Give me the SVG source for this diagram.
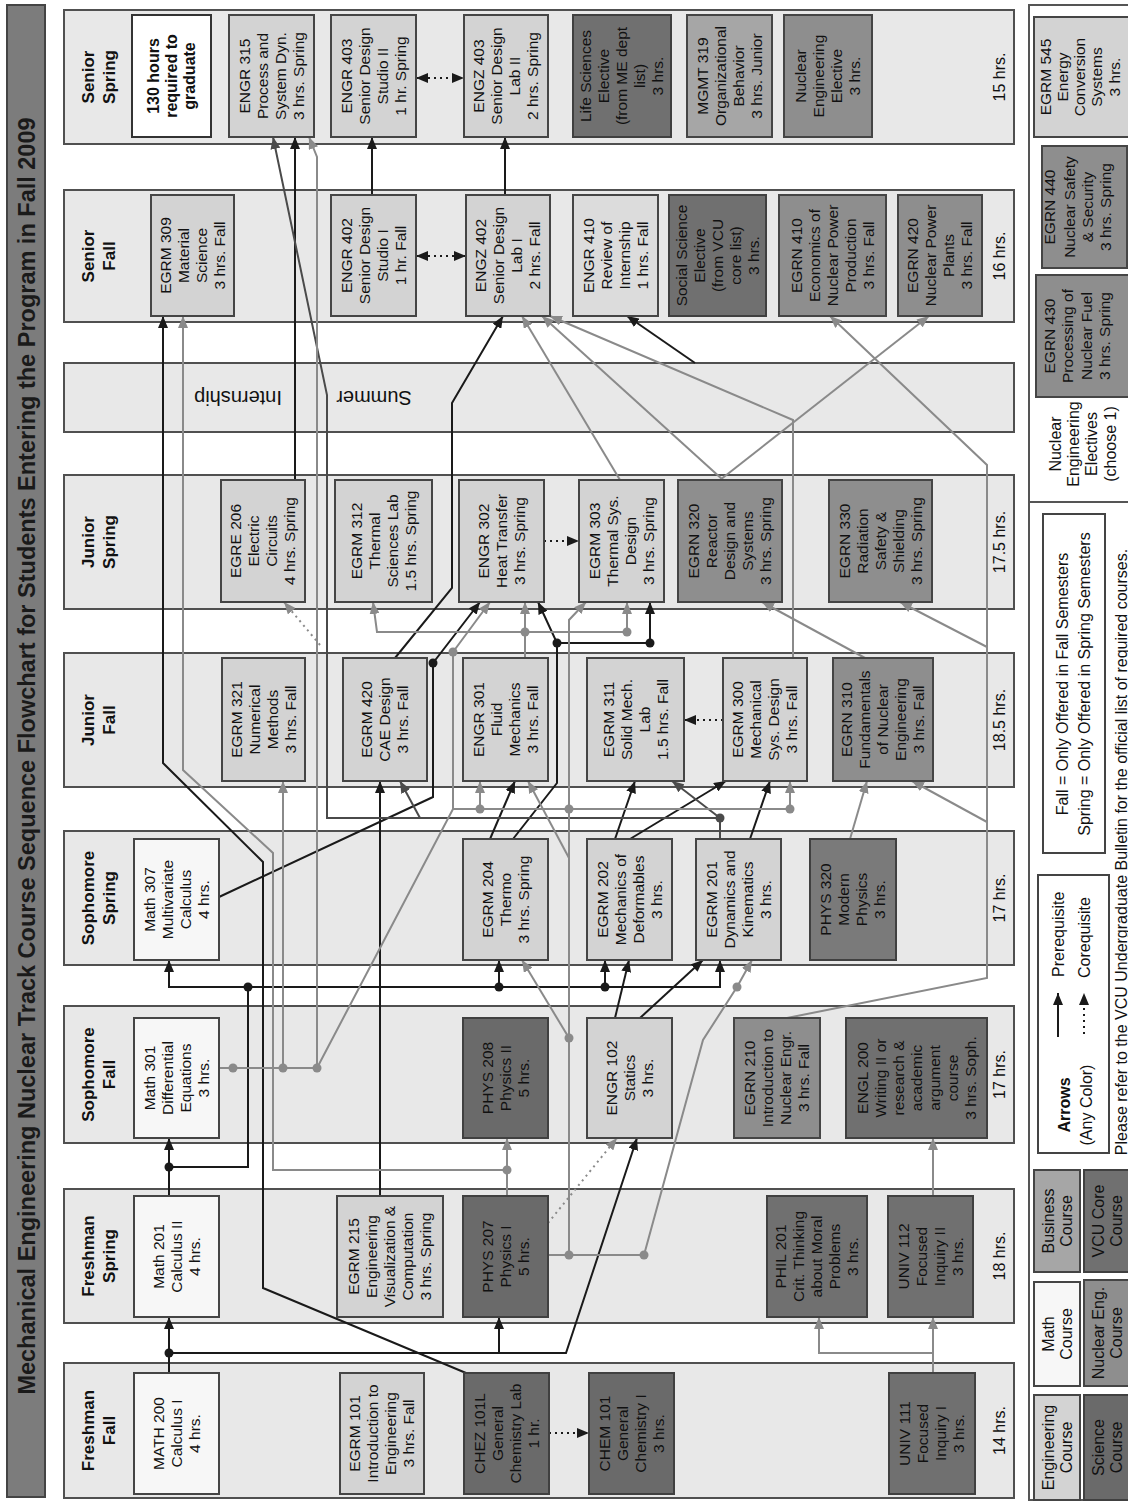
<svg xmlns="http://www.w3.org/2000/svg" width="1128" height="1502" viewBox="0 0 1128 1502">
<defs>
<style>
.t{font-family:'Liberation Sans',Arial,sans-serif;font-size:15.5px;text-anchor:middle;fill:#111}
.b{font-weight:bold}
.hd{font-family:'Liberation Sans',Arial,sans-serif;font-size:17px;font-weight:bold;text-anchor:middle;fill:#111}
.hr{font-family:'Liberation Sans',Arial,sans-serif;font-size:16px;text-anchor:middle;fill:#111}
.lg{font-family:'Liberation Sans',Arial,sans-serif;font-size:16px;text-anchor:middle;fill:#111}
.col{fill:#e8e8e8;stroke:#505050;stroke-width:2}
.eng{fill:#d3d3d3;stroke:#454545;stroke-width:2}
.math{fill:#f7f7f7;stroke:#454545;stroke-width:2}
.wht{fill:#ffffff;stroke:#333;stroke-width:2}
.nuc{fill:#8e8e8e;stroke:#454545;stroke-width:2}
.vcu{fill:#707070;stroke:#404040;stroke-width:2}
.sci{fill:#6a6a6a;stroke:#404040;stroke-width:2}
.bus{fill:#a6a6a6;stroke:#454545;stroke-width:2}
.k{stroke:#1a1a1a;stroke-width:2;fill:none}
.d{stroke:#4a4a4a;stroke-width:2;fill:none}
.g{stroke:#8a8a8a;stroke-width:2;fill:none}
.dash{stroke-dasharray:2 4}
</style>
<marker id="ak" viewBox="0 0 12 10" markerWidth="12" markerHeight="10" refX="12" refY="5" orient="auto" markerUnits="userSpaceOnUse"><path d="M0,0L12,5L0,10z" fill="#1a1a1a"/></marker>
<marker id="aks" viewBox="0 0 12 10" markerWidth="12" markerHeight="10" refX="12" refY="5" orient="auto-start-reverse" markerUnits="userSpaceOnUse"><path d="M0,0L12,5L0,10z" fill="#1a1a1a"/></marker>
<marker id="ad" viewBox="0 0 12 10" markerWidth="12" markerHeight="10" refX="12" refY="5" orient="auto" markerUnits="userSpaceOnUse"><path d="M0,0L12,5L0,10z" fill="#4a4a4a"/></marker>
<marker id="ag" viewBox="0 0 12 10" markerWidth="12" markerHeight="10" refX="12" refY="5" orient="auto" markerUnits="userSpaceOnUse"><path d="M0,0L12,5L0,10z" fill="#8a8a8a"/></marker>
</defs>
<rect x="0" y="0" width="1128" height="1502" fill="#ffffff"/>
<g transform="translate(0,1502) rotate(-90)">

<g id="title">
<rect x="5" y="7" width="1492" height="38" fill="#7c7c7c" stroke="#444" stroke-width="2"/>
<text x="746" y="35" font-family="'Liberation Sans',Arial,sans-serif" font-size="23.5" font-weight="bold" text-anchor="middle" fill="#1a1a1a">Mechanical Engineering Nuclear Track Course Sequence Flowchart for Students Entering the Program in Fall 2009</text>
</g>

<g id="columns">
<g id="col-ff"><rect class="col" x="4" y="64" width="135" height="950"/><text class="hd"><tspan x="71.5" y="94">Freshman</tspan><tspan x="71.5" y="115">Fall</tspan></text><text class="hr" x="71.5" y="1005">14 hrs.</text></g>
<g id="col-fs"><rect class="col" x="179" y="64" width="134" height="950"/><text class="hd"><tspan x="246" y="94">Freshman</tspan><tspan x="246" y="115">Spring</tspan></text><text class="hr" x="246" y="1005">18 hrs.</text></g>
<g id="col-sof"><rect class="col" x="359" y="64" width="137" height="950"/><text class="hd"><tspan x="427.5" y="94">Sophomore</tspan><tspan x="427.5" y="115">Fall</tspan></text><text class="hr" x="427.5" y="1005">17 hrs.</text></g>
<g id="col-sos"><rect class="col" x="537" y="64" width="134" height="950"/><text class="hd"><tspan x="604" y="94">Sophomore</tspan><tspan x="604" y="115">Spring</tspan></text><text class="hr" x="604" y="1005">17 hrs.</text></g>
<g id="col-jf"><rect class="col" x="715" y="64" width="134" height="950"/><text class="hd"><tspan x="782" y="94">Junior</tspan><tspan x="782" y="115">Fall</tspan></text><text class="hr" x="782" y="1005">18.5 hrs.</text></g>
<g id="col-js"><rect class="col" x="893" y="64" width="134" height="950"/><text class="hd"><tspan x="960" y="94">Junior</tspan><tspan x="960" y="115">Spring</tspan></text><text class="hr" x="960" y="1005">17.5 hrs.</text></g>
<g id="col-sum"><rect class="col" x="1070" y="64" width="69" height="950"/>
<text x="1104" y="238" font-family="'Liberation Sans',Arial,sans-serif" font-size="20" text-anchor="middle" dominant-baseline="central" fill="#111" transform="rotate(-90 1104 238)">Internship</text>
<text x="1104" y="374" font-family="'Liberation Sans',Arial,sans-serif" font-size="20" text-anchor="middle" dominant-baseline="central" fill="#111" transform="rotate(-90 1104 374)">Summer</text></g>
<g id="col-sef"><rect class="col" x="1180" y="64" width="132" height="950"/><text class="hd"><tspan x="1246" y="94">Senior</tspan><tspan x="1246" y="115">Fall</tspan></text><text class="hr" x="1246" y="1005">16 hrs.</text></g>
<g id="col-ses"><rect class="col" x="1358" y="64" width="134" height="950"/><text class="hd"><tspan x="1425" y="94">Senior</tspan><tspan x="1425" y="115">Spring</tspan></text><text class="hr" x="1425" y="1005">15 hrs.</text></g>
</g>

<g id="connectors">
<path class="k" d="M129,169 L185,169" marker-end="url(#ak)"/>
<path class="k" d="M149,169 L149,566 L364,637" marker-end="url(#ak)"/>
<path class="k" d="M149,499 L185,499" marker-end="url(#ak)"/>
<path class="k dash" d="M69,549 L69,589" marker-end="url(#ak)"/>
<path class="k" d="M129,466 L214,263 L640,263 L739,163 L1186,163" marker-end="url(#ak)"/>
<path class="k" d="M306,169 L364,169" marker-end="url(#ak)"/>
<path class="k" d="M335,169 L335,248 L515,248 L515,169 L542,169" marker-end="url(#ak)"/>
<path class="k" d="M515,248 L515,720 L542,720" marker-end="url(#ak)"/>
<path class="k" d="M515,499 L542,499" marker-end="url(#ak)"/>
<path class="k" d="M515,605 L542,605" marker-end="url(#ak)"/>
<path class="k" d="M306,380 L721,380" marker-end="url(#ak)"/>
<path class="k" d="M484,615 L542,629" marker-end="url(#ak)"/>
<path class="k" d="M484,640 L542,703" marker-end="url(#ak)"/>
<path class="k" d="M663,490 L721,515" marker-end="url(#ak)"/>
<path class="k" d="M663,513 L719,557 L859,557 L900,538" marker-end="url(#ak)"/>
<path class="k" d="M859,557 L859,650 L900,650" marker-end="url(#ak)"/>
<path class="k" d="M605,219 L705,433 L839,433 L900,480" marker-end="url(#ak)"/>
<path class="k" d="M663,615 L721,635" marker-end="url(#ak)"/>
<path class="k" d="M663,630 L721,726" marker-end="url(#ak)"/>
<path class="k" d="M663,750 L721,770" marker-end="url(#ak)"/>
<path class="k dash" d="M782,723 L782,684" marker-end="url(#ak)"/>
<path class="k dash" d="M961,544 L961,579" marker-end="url(#ak)"/>
<path class="k" d="M844,395 L914,452 L1099,452 L1186,503" marker-end="url(#ak)"/>
<path class="k" d="M1139,695 L1186,627" marker-end="url(#ak)"/>
<path class="k" d="M1307,372 L1365,372" marker-end="url(#ak)"/>
<path class="k" d="M1307,505 L1365,505" marker-end="url(#ak)"/>
<path class="k dash" d="M1246,416 L1246,466" marker-start="url(#aks)" marker-end="url(#aks)"/>
<path class="k dash" d="M1424,416 L1424,464" marker-start="url(#aks)" marker-end="url(#aks)"/>
<path class="k" d="M1022,295 L1365,295" marker-end="url(#ak)"/>
<path class="d" d="M663,720 L684,720 L684,327 L1107,327 L1365,273" marker-end="url(#ad)"/>
<path class="d" d="M684,720 L721,672" marker-end="url(#ad)"/>
<path class="d" d="M684,420 L721,400" marker-end="url(#ad)"/>
<path class="g" d="M306,507 L364,507" marker-end="url(#ag)"/>
<path class="g" d="M332,507 L332,273 L649,273 L732,183 L1186,183" marker-end="url(#ag)"/>
<path class="g dash" d="M279,548 L364,617" marker-end="url(#ag)"/>
<path class="g" d="M247,548 L247,644 L462,703 L515,737 L542,752" marker-end="url(#ag)"/>
<path class="g" d="M247,569 L882,569 L900,586" marker-end="url(#ag)"/>
<path class="g" d="M464,569 L542,522" marker-end="url(#ag)"/>
<path class="g" d="M644,569 L721,528" marker-end="url(#ag)"/>
<path class="g" d="M434,219 L434,317"/>
<path class="g" d="M434,283 L721,283" marker-end="url(#ag)"/>
<path class="g" d="M434,317 L1345,317 L1365,309" marker-end="url(#ag)"/>
<path class="g" d="M434,317 L693,453 L693,790 L721,790" marker-end="url(#ag)"/>
<path class="g" d="M693,480 L721,480" marker-end="url(#ag)"/>
<path class="g" d="M693,453 L850,453 L900,490" marker-end="url(#ag)"/>
<path class="g dash" d="M857,320 L900,284" marker-end="url(#ag)"/>
<path class="g" d="M844,525 L900,525" marker-end="url(#ag)"/>
<path class="g" d="M870,627 L870,377 L900,373" marker-end="url(#ag)"/>
<path class="g" d="M870,627 L900,627" marker-end="url(#ag)"/>
<path class="g" d="M663,850 L721,867" marker-end="url(#ag)"/>
<path class="g" d="M484,787 L524,987 L1037,987 L1186,830" marker-end="url(#ag)"/>
<path class="g" d="M680,987 L721,912" marker-end="url(#ag)"/>
<path class="g" d="M855,987 L900,900" marker-end="url(#ag)"/>
<path class="g" d="M844,865 L900,762" marker-end="url(#ag)"/>
<path class="g" d="M1022,720 L1186,929" marker-end="url(#ag)"/>
<path class="g" d="M1022,723 L1186,542" marker-end="url(#ag)"/>
<path class="g" d="M1022,620 L1186,522" marker-end="url(#ag)"/>
<path class="g" d="M844,793 L1082,793 L1186,550" marker-end="url(#ag)"/>
<path class="g" d="M129,933 L185,933" marker-end="url(#ag)"/>
<path class="g" d="M149,933 L149,819 L185,819" marker-end="url(#ag)"/>
<path class="g" d="M306,933 L364,933" marker-end="url(#ag)"/>
<g fill="#1a1a1a">
<circle cx="149" cy="169" r="4.5"/><circle cx="335" cy="169" r="4.5"/><circle cx="515" cy="248" r="4.5"/><circle cx="515" cy="499" r="4.5"/><circle cx="515" cy="605" r="4.5"/><circle cx="859" cy="557" r="4.5"/><circle cx="859" cy="650" r="4.5"/><circle cx="839" cy="433" r="4.5"/>
</g>
<circle cx="684" cy="720" r="4.5" fill="#4a4a4a"/>
<g fill="#8a8a8a">
<circle cx="332" cy="507" r="4.5"/><circle cx="247" cy="569" r="4.5"/><circle cx="247" cy="644" r="4.5"/><circle cx="515" cy="737" r="4.5"/><circle cx="464" cy="569" r="4.5"/><circle cx="693" cy="569" r="4.5"/><circle cx="434" cy="233" r="4.5"/><circle cx="434" cy="283" r="4.5"/><circle cx="434" cy="317" r="4.5"/><circle cx="693" cy="480" r="4.5"/><circle cx="693" cy="790" r="4.5"/><circle cx="850" cy="453" r="4.5"/><circle cx="870" cy="525" r="4.5"/><circle cx="870" cy="627" r="4.5"/>
</g>
</g>

<g id="n-math200"><rect class="math" x="8" y="134" width="121" height="85"/><text class="t"><tspan x="68.5" y="164">MATH 200</tspan><tspan x="68.5" y="182">Calculus I</tspan><tspan x="68.5" y="200">4 hrs.</tspan></text></g>
<g id="n-egrm101"><rect class="eng" x="8" y="340" width="121" height="84"/><text class="t"><tspan x="68.5" y="360">EGRM 101</tspan><tspan x="68.5" y="378">Introduction to</tspan><tspan x="68.5" y="396">Engineering</tspan><tspan x="68.5" y="414">3 hrs. Fall</tspan></text></g>
<g id="n-chez101l"><rect class="sci" x="8" y="464" width="121" height="85"/><text class="t"><tspan x="68.5" y="485">CHEZ 101L</tspan><tspan x="68.5" y="503">General</tspan><tspan x="68.5" y="521">Chemistry Lab</tspan><tspan x="68.5" y="539">1 hr.</tspan></text></g>
<g id="n-chem101"><rect class="sci" x="8" y="589" width="121" height="85"/><text class="t"><tspan x="68.5" y="610">CHEM 101</tspan><tspan x="68.5" y="628">General</tspan><tspan x="68.5" y="646">Chemistry I</tspan><tspan x="68.5" y="664">3 hrs.</tspan></text></g>
<g id="n-univ111"><rect class="vcu" x="8" y="889" width="121" height="86"/><text class="t"><tspan x="68.5" y="910">UNIV 111</tspan><tspan x="68.5" y="928">Focused</tspan><tspan x="68.5" y="946">Inquiry I</tspan><tspan x="68.5" y="964">3 hrs.</tspan></text></g>

<g id="n-math201"><rect class="math" x="185" y="134" width="121" height="85"/><text class="t"><tspan x="245.5" y="164">Math 201</tspan><tspan x="245.5" y="182">Calculus II</tspan><tspan x="245.5" y="200">4 hrs.</tspan></text></g>
<g id="n-egrm215"><rect class="eng" x="185" y="337" width="121" height="106"/><text class="t"><tspan x="245.5" y="359">EGRM 215</tspan><tspan x="245.5" y="377">Engineering</tspan><tspan x="245.5" y="395">Visualization &amp;</tspan><tspan x="245.5" y="413">Computation</tspan><tspan x="245.5" y="431">3 hrs. Spring</tspan></text></g>
<g id="n-phys207"><rect class="sci" x="185" y="463" width="121" height="85"/><text class="t"><tspan x="245.5" y="493">PHYS 207</tspan><tspan x="245.5" y="511">Physics I</tspan><tspan x="245.5" y="529">5 hrs.</tspan></text></g>
<g id="n-phil201"><rect class="vcu" x="185" y="767" width="121" height="100"/><text class="t"><tspan x="245.5" y="786">PHIL 201</tspan><tspan x="245.5" y="804">Crit. Thinking</tspan><tspan x="245.5" y="822">about Moral</tspan><tspan x="245.5" y="840">Problems</tspan><tspan x="245.5" y="858">3 hrs.</tspan></text></g>
<g id="n-univ112"><rect class="vcu" x="185" y="888" width="121" height="85"/><text class="t"><tspan x="245.5" y="909">UNIV 112</tspan><tspan x="245.5" y="927">Focused</tspan><tspan x="245.5" y="945">Inquiry II</tspan><tspan x="245.5" y="963">3 hrs.</tspan></text></g>

<g id="n-math301"><rect class="math" x="364" y="134" width="120" height="85"/><text class="t"><tspan x="424" y="155">Math 301</tspan><tspan x="424" y="173">Differential</tspan><tspan x="424" y="191">Equations</tspan><tspan x="424" y="209">3 hrs.</tspan></text></g>
<g id="n-phys208"><rect class="sci" x="364" y="463" width="120" height="85"/><text class="t"><tspan x="424" y="493">PHYS 208</tspan><tspan x="424" y="511">Physics II</tspan><tspan x="424" y="529">5 hrs.</tspan></text></g>
<g id="n-engr102"><rect class="eng" x="364" y="587" width="120" height="85"/><text class="t"><tspan x="424" y="617">ENGR 102</tspan><tspan x="424" y="635">Statics</tspan><tspan x="424" y="653">3 hrs.</tspan></text></g>
<g id="n-egrn210"><rect class="nuc" x="364" y="734" width="120" height="86"/><text class="t"><tspan x="424" y="755">EGRN 210</tspan><tspan x="424" y="773">Introduction to</tspan><tspan x="424" y="791">Nuclear Engr.</tspan><tspan x="424" y="809">3 hrs. Fall</tspan></text></g>
<g id="n-engl200"><rect class="vcu" x="364" y="846" width="120" height="141"/><text class="t"><tspan x="424" y="868">ENGL 200</tspan><tspan x="424" y="886">Writing II or</tspan><tspan x="424" y="904">research &amp;</tspan><tspan x="424" y="922">academic</tspan><tspan x="424" y="940">argument</tspan><tspan x="424" y="958">course</tspan><tspan x="424" y="976">3 hrs. Soph.</tspan></text></g>

<g id="n-math307"><rect class="math" x="542" y="134" width="121" height="85"/><text class="t"><tspan x="602.5" y="155">Math 307</tspan><tspan x="602.5" y="173">Multivariate</tspan><tspan x="602.5" y="191">Calculus</tspan><tspan x="602.5" y="209">4 hrs.</tspan></text></g>
<g id="n-egrm204"><rect class="eng" x="542" y="463" width="121" height="85"/><text class="t"><tspan x="602.5" y="493">EGRM 204</tspan><tspan x="602.5" y="511">Thermo</tspan><tspan x="602.5" y="529">3 hrs. Spring</tspan></text></g>
<g id="n-egrm202"><rect class="eng" x="542" y="587" width="121" height="85"/><text class="t"><tspan x="602.5" y="608">EGRM 202</tspan><tspan x="602.5" y="626">Mechanics of</tspan><tspan x="602.5" y="644">Deformables</tspan><tspan x="602.5" y="662">3 hrs.</tspan></text></g>
<g id="n-egrm201"><rect class="eng" x="542" y="696" width="121" height="85"/><text class="t"><tspan x="602.5" y="717">EGRM 201</tspan><tspan x="602.5" y="735">Dynamics and</tspan><tspan x="602.5" y="753">Kinematics</tspan><tspan x="602.5" y="771">3 hrs.</tspan></text></g>
<g id="n-phys320"><rect class="sci" x="542" y="810" width="121" height="86" style="fill:#7a7a7a"/><text class="t"><tspan x="602.5" y="831">PHYS 320</tspan><tspan x="602.5" y="849">Modern</tspan><tspan x="602.5" y="867">Physics</tspan><tspan x="602.5" y="885">3 hrs.</tspan></text></g>

<g id="n-egrm321"><rect class="eng" x="721" y="222" width="123" height="83"/><text class="t"><tspan x="782.5" y="242">EGRM 321</tspan><tspan x="782.5" y="260">Numerical</tspan><tspan x="782.5" y="278">Methods</tspan><tspan x="782.5" y="296">3 hrs. Fall</tspan></text></g>
<g id="n-egrm420"><rect class="eng" x="721" y="343" width="123" height="84"/><text class="t"><tspan x="782.5" y="372">EGRM 420</tspan><tspan x="782.5" y="390">CAE Design</tspan><tspan x="782.5" y="408">3 hrs. Fall</tspan></text></g>
<g id="n-engr301"><rect class="eng" x="721" y="463" width="123" height="85"/><text class="t"><tspan x="782.5" y="484">ENGR 301</tspan><tspan x="782.5" y="502">Fluid</tspan><tspan x="782.5" y="520">Mechanics</tspan><tspan x="782.5" y="538">3 hrs. Fall</tspan></text></g>
<g id="n-egrm311"><rect class="eng" x="721" y="587" width="123" height="97"/><text class="t"><tspan x="782.5" y="614">EGRM 311</tspan><tspan x="782.5" y="632">Solid Mech.</tspan><tspan x="782.5" y="650">Lab</tspan><tspan x="782.5" y="668">1.5 hrs. Fall</tspan></text></g>
<g id="n-egrm300"><rect class="eng" x="721" y="723" width="123" height="84"/><text class="t"><tspan x="782.5" y="743">EGRM 300</tspan><tspan x="782.5" y="761">Mechanical</tspan><tspan x="782.5" y="779">Sys. Design</tspan><tspan x="782.5" y="797">3 hrs.  Fall</tspan></text></g>
<g id="n-egrn310"><rect class="nuc" x="721" y="833" width="123" height="100"/><text class="t"><tspan x="782.5" y="852">EGRN 310</tspan><tspan x="782.5" y="870">Fundamentals</tspan><tspan x="782.5" y="888">of Nuclear</tspan><tspan x="782.5" y="906">Engineering</tspan><tspan x="782.5" y="924">3 hrs. Fall</tspan></text></g>

<g id="n-egre206"><rect class="eng" x="900" y="221" width="122" height="84"/><text class="t"><tspan x="961" y="241">EGRE 206</tspan><tspan x="961" y="259">Electric</tspan><tspan x="961" y="277">Circuits</tspan><tspan x="961" y="295">4 hrs. Spring</tspan></text></g>
<g id="n-egrm312"><rect class="eng" x="900" y="335" width="122" height="97"/><text class="t"><tspan x="961" y="362">EGRM 312</tspan><tspan x="961" y="380">Thermal</tspan><tspan x="961" y="398">Sciences Lab</tspan><tspan x="961" y="416">1.5 hrs. Spring</tspan></text></g>
<g id="n-engr302"><rect class="eng" x="900" y="459" width="122" height="85"/><text class="t"><tspan x="961" y="489">ENGR 302</tspan><tspan x="961" y="507">Heat Transfer</tspan><tspan x="961" y="525">3 hrs. Spring</tspan></text></g>
<g id="n-egrm303"><rect class="eng" x="900" y="579" width="122" height="85"/><text class="t"><tspan x="961" y="600">EGRM 303</tspan><tspan x="961" y="618">Thermal Sys.</tspan><tspan x="961" y="636">Design</tspan><tspan x="961" y="654">3 hrs. Spring</tspan></text></g>
<g id="n-egrn320"><rect class="nuc" x="900" y="678" width="122" height="104"/><text class="t"><tspan x="961" y="699">EGRN 320</tspan><tspan x="961" y="717">Reactor</tspan><tspan x="961" y="735">Design and</tspan><tspan x="961" y="753">Systems</tspan><tspan x="961" y="771">3 hrs. Spring</tspan></text></g>
<g id="n-egrn330"><rect class="nuc" x="900" y="829" width="122" height="103"/><text class="t"><tspan x="961" y="850">EGRN 330</tspan><tspan x="961" y="868">Radiation</tspan><tspan x="961" y="886">Safety &amp;</tspan><tspan x="961" y="904">Shielding</tspan><tspan x="961" y="922">3 hrs. Spring</tspan></text></g>

<g id="n-egrm309"><rect class="eng" x="1186" y="151" width="121" height="83"/><text class="t"><tspan x="1246.5" y="171">EGRM 309</tspan><tspan x="1246.5" y="189">Material</tspan><tspan x="1246.5" y="207">Science</tspan><tspan x="1246.5" y="225">3 hrs. Fall</tspan></text></g>
<g id="n-engr402"><rect class="eng" x="1186" y="331" width="121" height="85"/><text class="t"><tspan x="1246.5" y="352">ENGR 402</tspan><tspan x="1246.5" y="370">Senior Design</tspan><tspan x="1246.5" y="388">Studio I</tspan><tspan x="1246.5" y="406">1 hr. Fall</tspan></text></g>
<g id="n-engz402"><rect class="eng" x="1186" y="466" width="121" height="84"/><text class="t"><tspan x="1246.5" y="486">ENGZ 402</tspan><tspan x="1246.5" y="504">Senior Design</tspan><tspan x="1246.5" y="522">Lab I</tspan><tspan x="1246.5" y="540">2 hrs. Fall</tspan></text></g>
<g id="n-engr410"><rect class="eng" x="1186" y="573" width="121" height="85" style="fill:#dcdcdc"/><text class="t"><tspan x="1246.5" y="594">ENGR 410</tspan><tspan x="1246.5" y="612">Review of</tspan><tspan x="1246.5" y="630">Internship</tspan><tspan x="1246.5" y="648">1 hrs. Fall</tspan></text></g>
<g id="n-socsci"><rect class="vcu" x="1186" y="669" width="121" height="97"/><text class="t"><tspan x="1246.5" y="687">Social Science</tspan><tspan x="1246.5" y="705">Elective</tspan><tspan x="1246.5" y="723">(from VCU</tspan><tspan x="1246.5" y="741">core list)</tspan><tspan x="1246.5" y="759">3 hrs.</tspan></text></g>
<g id="n-egrn410"><rect class="nuc" x="1186" y="779" width="121" height="107"/><text class="t"><tspan x="1246.5" y="802">EGRN 410</tspan><tspan x="1246.5" y="820">Economics of</tspan><tspan x="1246.5" y="838">Nuclear Power</tspan><tspan x="1246.5" y="856">Production</tspan><tspan x="1246.5" y="874">3 hrs. Fall</tspan></text></g>
<g id="n-egrn420"><rect class="nuc" x="1186" y="898" width="121" height="84"/><text class="t"><tspan x="1246.5" y="918">EGRN 420</tspan><tspan x="1246.5" y="936">Nuclear Power</tspan><tspan x="1246.5" y="954">Plants</tspan><tspan x="1246.5" y="972">3 hrs. Fall</tspan></text></g>

<g id="n-130"><rect class="wht" x="1365" y="132" width="122" height="79"/><text class="t b" style="font-size:16px"><tspan x="1426" y="159">130 hours</tspan><tspan x="1426" y="177">required to</tspan><tspan x="1426" y="195">graduate</tspan></text></g>
<g id="n-engr315"><rect class="eng" x="1365" y="229" width="122" height="85"/><text class="t"><tspan x="1426" y="250">ENGR 315</tspan><tspan x="1426" y="268">Process and</tspan><tspan x="1426" y="286">System Dyn.</tspan><tspan x="1426" y="304">3 hrs. Spring</tspan></text></g>
<g id="n-engr403"><rect class="eng" x="1365" y="331" width="122" height="85"/><text class="t"><tspan x="1426" y="352">ENGR 403</tspan><tspan x="1426" y="370">Senior Design</tspan><tspan x="1426" y="388">Studio II</tspan><tspan x="1426" y="406">1 hr. Spring</tspan></text></g>
<g id="n-engz403"><rect class="eng" x="1365" y="464" width="122" height="84"/><text class="t"><tspan x="1426" y="484">ENGZ 403</tspan><tspan x="1426" y="502">Senior Design</tspan><tspan x="1426" y="520">Lab II</tspan><tspan x="1426" y="538">2 hrs. Spring</tspan></text></g>
<g id="n-lifesci"><rect class="vcu" x="1365" y="573" width="122" height="98"/><text class="t"><tspan x="1426" y="591">Life Sciences</tspan><tspan x="1426" y="609">Elective</tspan><tspan x="1426" y="627">(from ME dept</tspan><tspan x="1426" y="645">list)</tspan><tspan x="1426" y="663">3 hrs.</tspan></text></g>
<g id="n-mgmt319"><rect class="bus" x="1365" y="687" width="122" height="85"/><text class="t"><tspan x="1426" y="708">MGMT 319</tspan><tspan x="1426" y="726">Organizational</tspan><tspan x="1426" y="744">Behavior</tspan><tspan x="1426" y="762">3 hrs.  Junior</tspan></text></g>
<g id="n-nucelec"><rect class="nuc" x="1365" y="784" width="122" height="88"/><text class="t"><tspan x="1426" y="806">Nuclear</tspan><tspan x="1426" y="824">Engineering</tspan><tspan x="1426" y="842">Elective</tspan><tspan x="1426" y="860">3 hrs.</tspan></text></g>

<g id="legend">
<rect x="2" y="1029" width="1495" height="130" fill="#ffffff" stroke="#555" stroke-width="2"/>
<line x1="1000" y1="1029" x2="1000" y2="1160" stroke="#555" stroke-width="2"/>
<text class="lg"><tspan x="1058" y="1061">Nuclear</tspan><tspan x="1058" y="1079">Engineering</tspan><tspan x="1058" y="1097">Electives</tspan><tspan x="1058" y="1116">(choose 1)</tspan></text>
<g id="n-egrn430"><rect class="nuc" x="1105" y="1036" width="122" height="110"/><text class="t"><tspan x="1166" y="1055">EGRN 430</tspan><tspan x="1166" y="1073">Processing of</tspan><tspan x="1166" y="1092">Nuclear Fuel</tspan><tspan x="1166" y="1110">3 hrs. Spring</tspan></text></g>
<g id="n-egrn440"><rect class="nuc" x="1234" y="1042" width="122" height="85"/><text class="t"><tspan x="1295" y="1055">EGRN 440</tspan><tspan x="1295" y="1075">Nuclear Safety</tspan><tspan x="1295" y="1093">&amp; Security</tspan><tspan x="1295" y="1111">3 hrs. Spring</tspan></text></g>
<g id="n-egrm545"><rect class="eng" x="1365" y="1034" width="120" height="112"/><text class="t"><tspan x="1425" y="1051">EGRM 545</tspan><tspan x="1425" y="1068">Energy</tspan><tspan x="1425" y="1085">Conversion</tspan><tspan x="1425" y="1102">Systems</tspan><tspan x="1425" y="1120">3 hrs.</tspan></text></g>
<rect x="649" y="1043" width="339" height="62" fill="#ffffff" stroke="#444" stroke-width="2"/>
<text class="lg"><tspan x="818" y="1068">Fall = Only Offered in Fall Semesters</tspan><tspan x="818" y="1090">Spring = Only Offered in Spring Semesters</tspan></text>
<rect x="349" y="1038" width="278" height="71" fill="#ffffff" stroke="#444" stroke-width="2"/>
<text class="lg"><tspan x="397" y="1070" font-weight="bold">Arrows</tspan><tspan x="397" y="1092">(Any Color)</tspan></text>
<path class="k" d="M465,1058 L509,1058" marker-end="url(#ak)"/>
<path class="k dash" d="M468,1084 L509,1084" marker-end="url(#ak)"/>
<text class="lg" text-anchor="start" style="text-anchor:start"><tspan x="525" y="1064">Prerequisite</tspan><tspan x="524" y="1090">Corequisite</tspan></text>
<text class="lg" x="650" y="1127">Please refer to the VCU Undergraduate Bulletin for the official list of required courses.</text>
<rect class="eng" x="2" y="1034" width="105" height="46"/><text class="lg"><tspan x="54.5" y="1054">Engineering</tspan><tspan x="54.5" y="1072">Course</tspan></text>
<rect class="sci" x="2" y="1084" width="105" height="52"/><text class="lg"><tspan x="54.5" y="1104">Science</tspan><tspan x="54.5" y="1122">Course</tspan></text>
<rect class="math" x="116" y="1034" width="104" height="46"/><text class="lg"><tspan x="168" y="1054">Math</tspan><tspan x="168" y="1072">Course</tspan></text>
<rect class="nuc" x="116" y="1084" width="106" height="52"/><text class="lg"><tspan x="169" y="1104">Nuclear Eng.</tspan><tspan x="169" y="1122">Course</tspan></text>
<rect class="bus" x="230" y="1034" width="102" height="46"/><text class="lg"><tspan x="281" y="1054">Business</tspan><tspan x="281" y="1072">Course</tspan></text>
<rect class="vcu" x="230" y="1084" width="102" height="52"/><text class="lg"><tspan x="281" y="1104">VCU Core</tspan><tspan x="281" y="1122">Course</tspan></text>
</g>
</g>
</svg>
